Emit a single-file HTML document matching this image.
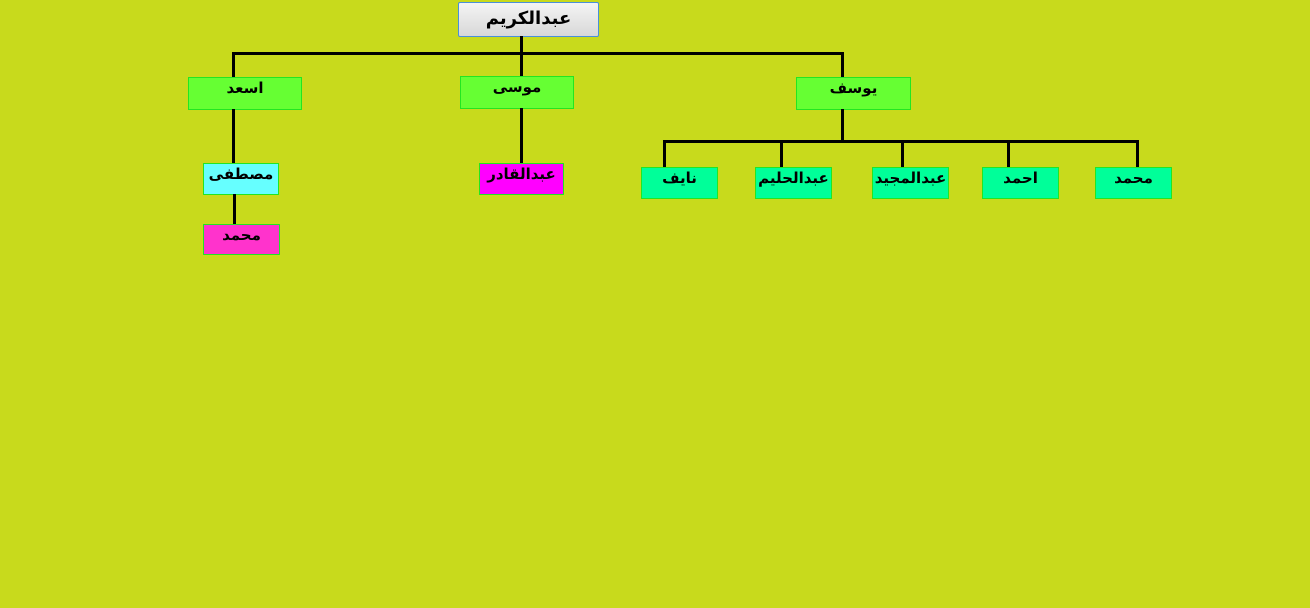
<!DOCTYPE html>
<html><head><meta charset="utf-8"><style>
body{margin:0;width:1310px;height:608px;background:#c8da1c;position:relative;overflow:hidden;font-family:"Liberation Sans","DejaVu Sans",sans-serif;}
.b{position:absolute;box-sizing:border-box;border:1px solid #22e622;text-align:center;font-weight:bold;font-size:15px;color:#000;direction:rtl;line-height:20px;}
.g{background:#66ff33}.t{background:#00ff99}
.l{position:absolute;background:#000;}
</style></head><body>
<div class="b" style="left:458px;top:2px;width:141px;height:35px;border:1px solid #4a90d9;border-radius:2px;background:linear-gradient(#f4f4f4,#d8d8d8);font-size:18px;line-height:30px;">عبدالكريم</div>
<div class="l" style="left:520px;top:36px;width:3px;height:41px"></div>
<div class="l" style="left:232px;top:52px;width:612px;height:3px"></div>
<div class="l" style="left:232px;top:52px;width:3px;height:25px"></div>
<div class="l" style="left:841px;top:52px;width:3px;height:25px"></div>

<div class="b g" style="left:188px;top:77px;width:114px;height:33px;line-height:22px">اسعد</div>
<div class="b g" style="left:460px;top:76px;width:114px;height:33px;line-height:22px">موسى</div>
<div class="b g" style="left:796px;top:77px;width:115px;height:33px;line-height:22px">يوسف</div>

<div class="l" style="left:232px;top:109px;width:3px;height:54px"></div>
<div class="b" style="left:203px;top:163px;width:76px;height:32px;background:#66ffff;line-height:22px">مصطفى</div>
<div class="l" style="left:233px;top:194px;width:3px;height:30px"></div>
<div class="b" style="left:203px;top:224px;width:77px;height:31px;background:#ff33cc;line-height:22px">محمد</div>

<div class="l" style="left:520px;top:108px;width:3px;height:55px"></div>
<div class="b" style="left:479px;top:163px;width:85px;height:32px;background:#ff00ff;line-height:22px">عبدالقادر</div>

<div class="l" style="left:841px;top:109px;width:3px;height:32px"></div>
<div class="l" style="left:663px;top:140px;width:476px;height:3px"></div>
<div class="l" style="left:663px;top:140px;width:3px;height:27px"></div>
<div class="l" style="left:780px;top:140px;width:3px;height:27px"></div>
<div class="l" style="left:901px;top:140px;width:3px;height:27px"></div>
<div class="l" style="left:1007px;top:140px;width:3px;height:27px"></div>
<div class="l" style="left:1136px;top:140px;width:3px;height:27px"></div>

<div class="b t" style="left:641px;top:167px;width:77px;height:32px;line-height:22px">نايف</div>
<div class="b t" style="left:755px;top:167px;width:77px;height:32px;line-height:22px">عبدالحليم</div>
<div class="b t" style="left:872px;top:167px;width:77px;height:32px;line-height:22px">عبدالمجيد</div>
<div class="b t" style="left:982px;top:167px;width:77px;height:32px;line-height:22px">احمد</div>
<div class="b t" style="left:1095px;top:167px;width:77px;height:32px;line-height:22px">محمد</div>
</body></html>
